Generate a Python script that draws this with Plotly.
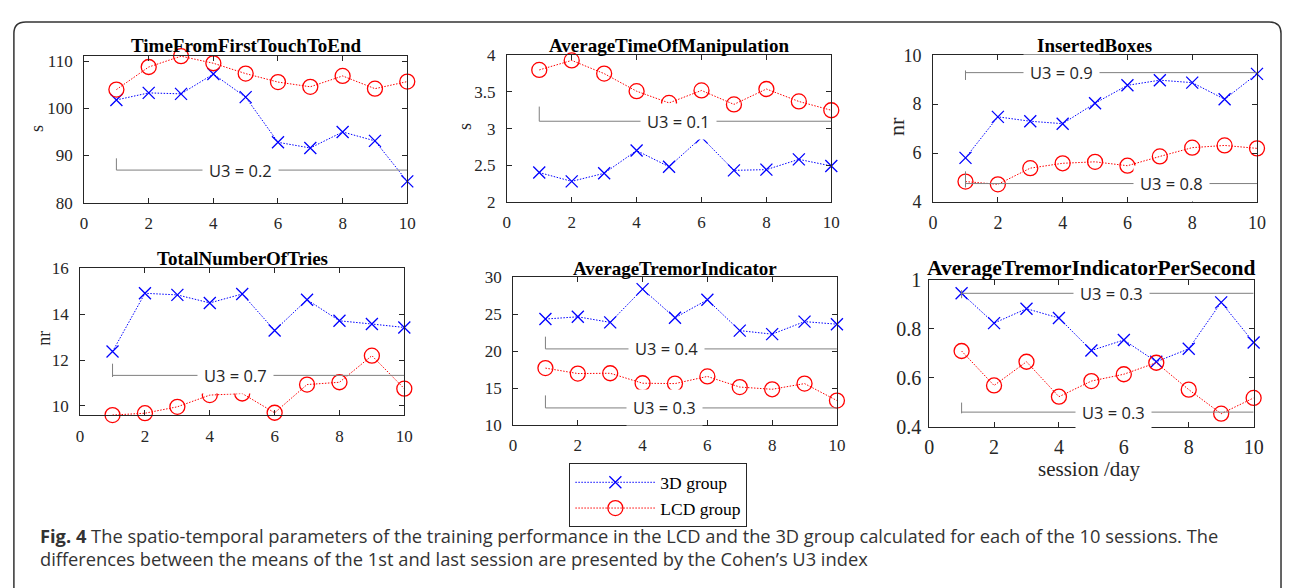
import plotly.graph_objects as go

# ---------------- data ----------------
sessions = [1, 2, 3, 4, 5, 6, 7, 8, 9, 10]

titles = ["TimeFromFirstTouchToEnd", "AverageTimeOfManipulation", "InsertedBoxes",
          "TotalNumberOfTries", "AverageTremorIndicator", "AverageTremorIndicatorPerSecond"]
y_units = ["s", "s", "nr", "nr", "", ""]

p1_3d = [101.8, 103.3, 103.1, 107.3, 102.4, 92.8, 91.6, 95.0, 93.1, 84.5]
p1_lcd = [104.0, 108.8, 111.1, 109.6, 107.4, 105.6, 104.6, 106.9, 104.2, 105.7]
p2_3d = [2.40, 2.28, 2.39, 2.70, 2.48, 2.88, 2.43, 2.44, 2.58, 2.49]
p2_lcd = [3.80, 3.93, 3.75, 3.51, 3.35, 3.52, 3.33, 3.54, 3.37, 3.25]
p3_3d = [5.80, 7.48, 7.30, 7.20, 8.04, 8.77, 8.98, 8.88, 8.20, 9.24]
p3_lcd = [4.83, 4.72, 5.38, 5.58, 5.64, 5.48, 5.86, 6.22, 6.31, 6.19]
p4_3d = [12.37, 14.91, 14.84, 14.49, 14.88, 13.29, 14.63, 13.71, 13.57, 13.42]
p4_lcd = [9.60, 9.68, 9.96, 10.47, 10.54, 9.70, 10.93, 11.03, 12.19, 10.75]
p5_3d = [24.35, 24.65, 23.9, 28.4, 24.52, 26.96, 22.78, 22.3, 24.0, 23.65]
p5_lcd = [17.7, 16.96, 17.0, 15.65, 15.6, 16.57, 15.13, 14.83, 15.6, 13.3]
p6_3d = [0.945, 0.823, 0.882, 0.844, 0.711, 0.754, 0.665, 0.718, 0.908, 0.744]
p6_lcd = [0.709, 0.568, 0.665, 0.522, 0.586, 0.614, 0.661, 0.551, 0.4525, 0.517]

series_3d = [p1_3d, p2_3d, p3_3d, p4_3d, p5_3d, p6_3d]
series_lcd = [p1_lcd, p2_lcd, p3_lcd, p4_lcd, p5_lcd, p6_lcd]

y_ranges = [[80, 111.15], [2, 4], [4, 10], [9.59, 16], [10, 30], [0.4, 1]]
y_ticks = [[80, 90, 100, 110], [2, 2.5, 3, 3.5, 4], [4, 6, 8, 10],
           [10, 12, 14, 16], [10, 15, 20, 25, 30], [0.4, 0.6, 0.8, 1]]
y_ticktext = [["80", "90", "100", "110"], ["2", "2.5", "3", "3.5", "4"], ["4", "6", "8", "10"],
              ["10", "12", "14", "16"], ["10", "15", "20", "25", "30"], ["0.4", "0.6", "0.8", "1"]]
x_ticks = [0, 2, 4, 6, 8, 10]

# U3 index brackets: panel, line level, tick start, tick end, label x, label
u3_panel = [1, 2, 3, 3, 4, 5, 5, 6, 6]
u3_level = [86.9, 3.10, 9.29, 4.75, 11.33, 20.3, 12.3, 0.945, 0.459]
u3_tick0 = [89.4, 3.30, 9.38, 5.25, 11.84, 21.96, 14.0, 0.958, 0.498]
u3_tick1 = [86.9, 3.10, 8.99, 4.59, 11.26, 20.3, 12.3, 0.925, 0.454]
u3_textx = [4.83, 5.3, 3.97, 7.37, 4.79, 4.73, 4.69, 5.63, 5.69]
u3_label = ["U3 = 0.2", "U3 = 0.1", "U3 = 0.9", "U3 = 0.8", "U3 = 0.7",
            "U3 = 0.4", "U3 = 0.3", "U3 = 0.3", "U3 = 0.3"]

caption_1 = ("<b>Fig. 4</b> The spatio-temporal parameters of the training performance in the LCD "
             "and the 3D group calculated for each of the 10 sessions. The")
caption_2 = ("differences between the means of the 1st and last session are presented by the "
             "Cohen\u2019s U3 index")

# ---------------- layout geometry (pixels) ----------------
W, H = 1292, 588
# plot boxes: left, right, top, bottom
boxes = [(80, 407, 46.7, 199), (507.7, 836, 46, 198.3), (939, 1266.7, 46, 198.3),
         (76, 404, 267.3, 420), (514, 841.7, 276.7, 430), (935, 1263.3, 279.3, 431.7)]
tick_size = [17, 17, 18, 17, 17, 20]
title_size = [19, 19, 19, 19, 19, 21.5]
title_pos = [(244, 36), (672, 36), (1102, 36), (240, 257), (678, 267.5), (1099, 267)]
ylab_pos = [(33, 122), (465, 120), (902, 120), (40, 340), None, None]
ylab_size = [18, 18, 22, 18, 18, 18]

SERIF = "Liberation Serif"
SANS = "Open Sans"
AX = "#262626"


def px(x):
    return x / W


def py(y):
    return 1 - y / H


fig = go.Figure()
layout = dict(width=W, height=H, margin=dict(l=0, r=0, t=0, b=0),
              paper_bgcolor="white", plot_bgcolor="white", showlegend=True)
annotations = []
shapes = []

for i in range(6):
    n = i + 1
    xs = "x" if n == 1 else f"x{n}"
    ys = "y" if n == 1 else f"y{n}"
    l, r, t, b = boxes[i]
    fig.add_trace(go.Scatter(
        x=sessions, y=series_3d[i], xaxis=xs, yaxis=ys, name="3D group",
        mode="lines+markers", cliponaxis=False, showlegend=(i == 0), legendgroup="3d",
        line=dict(color="#0000FF", width=1, dash="1.5px,1.5px"),
        marker=dict(symbol="x-thin-open", size=12, color="#0000FF",
                    line=dict(color="#0000FF", width=1.3))))
    fig.add_trace(go.Scatter(
        x=sessions, y=series_lcd[i], xaxis=xs, yaxis=ys, name="LCD group",
        mode="lines+markers", cliponaxis=False, showlegend=(i == 0), legendgroup="lcd",
        line=dict(color="#FF0000", width=1, dash="1.5px,1.5px"),
        marker=dict(symbol="circle-open", size=15, color="#FF0000",
                    line=dict(color="#FF0000", width=1.3))))
    common = dict(showline=True, linecolor=AX, linewidth=1, mirror="allticks",
                  ticks="inside", ticklen=5, tickcolor=AX, showgrid=False, zeroline=False,
                  tickfont=dict(family=SERIF, size=tick_size[i], color=AX))
    xk = "xaxis" if n == 1 else f"xaxis{n}"
    yk = "yaxis" if n == 1 else f"yaxis{n}"
    layout[xk] = dict(common, domain=[px(l), px(r)], range=[0, 10], tickvals=x_ticks,
                      anchor=ys, ticklabelstandoff=5 if n != 6 else 2)
    layout[yk] = dict(common, domain=[py(b), py(t)], range=y_ranges[i], tickvals=y_ticks[i],
                      ticktext=y_ticktext[i], anchor=xs,
                      ticklabelstandoff=7 if n != 6 else 3)
    tx, ty = title_pos[i]
    annotations.append(dict(text=f"<b>{titles[i]}</b>", x=px(tx), y=py(ty), xref="paper",
                            yref="paper", xanchor="center", yanchor="middle", showarrow=False,
                            font=dict(family=SERIF, size=title_size[i], color="black")))
    if ylab_pos[i] is not None:
        lx, ly = ylab_pos[i]
        annotations.append(dict(text=y_units[i], x=px(lx), y=py(ly), xref="paper",
                                yref="paper", xanchor="center", yanchor="middle",
                                showarrow=False, textangle=-90,
                                font=dict(family=SERIF, size=ylab_size[i], color=AX)))

# U3 brackets
for k in range(len(u3_panel)):
    n = u3_panel[k]
    xs = "x" if n == 1 else f"x{n}"
    ys = "y" if n == 1 else f"y{n}"
    shapes.append(dict(type="line", xref=xs, yref=ys, x0=1, x1=10,
                       y0=u3_level[k], y1=u3_level[k], line=dict(color="#7f7f7f", width=1)))
    shapes.append(dict(type="line", xref=xs, yref=ys, x0=1, x1=1,
                       y0=u3_tick0[k], y1=u3_tick1[k], line=dict(color="#7f7f7f", width=1)))
    annotations.append(dict(text=u3_label[k], x=u3_textx[k], y=u3_level[k], xref=xs, yref=ys,
                            xanchor="center", yanchor="middle", showarrow=False,
                            bgcolor="white", borderpad=6,
                            font=dict(family=SANS, size=16.5, color=AX)))

# x-axis title of the last panel
annotations.append(dict(text="session /day", x=px(1097), y=py(476), xref="paper", yref="paper",
                        xanchor="center", yanchor="middle", showarrow=False,
                        font=dict(family=SERIF, size=21, color=AX)))

# caption
annotations.append(dict(text=caption_1, x=px(33), y=py(545), xref="paper", yref="paper",
                        xanchor="left", yanchor="middle", showarrow=False,
                        font=dict(family=SANS, size=18.3, color="#333333")))
annotations.append(dict(text=caption_2, x=px(33), y=py(569), xref="paper", yref="paper",
                        xanchor="left", yanchor="middle", showarrow=False,
                        font=dict(family=SANS, size=18.3, color="#333333")))

# outer frame with rounded top corners
x0, x1, yt, yb = 9, 1291, 11.5, 600
rr = 12
path = (f"M {px(x0)},{py(yb)} L {px(x0)},{py(yt + rr)} "
        f"Q {px(x0)},{py(yt)} {px(x0 + rr)},{py(yt)} "
        f"L {px(x1 - rr)},{py(yt)} Q {px(x1)},{py(yt)} {px(x1)},{py(yt + rr)} "
        f"L {px(x1)},{py(yb)}")
shapes.append(dict(type="path", xref="paper", yref="paper", path=path,
                   line=dict(color="#333333", width=1.5)))

layout["annotations"] = annotations
layout["shapes"] = shapes
layout["legend"] = dict(x=px(571), y=py(470), xanchor="left", yanchor="top",
                        bgcolor="white", bordercolor=AX, borderwidth=1,
                        font=dict(family=SERIF, size=17.5, color="black"),
                        itemwidth=80, tracegroupgap=0)
fig.update_layout(**layout)
fig.write_html("out.html")
